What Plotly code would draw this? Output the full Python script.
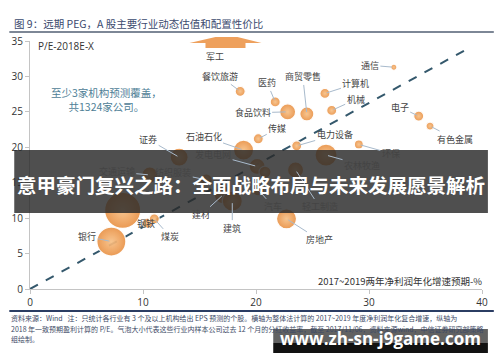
import plotly.graph_objects as go

# ---------------- data ----------------
sectors = ["餐饮旅游", "医药", "商贸零售", "食品饮料", "计算机", "机械", "通信", "电子",
           "有色金属", "传媒", "电力设备", "环保", "石油石化", "证券", "发电电网", "农林牧渔",
           "家电", "轻工制造", "汽车", "交通运输", "纺织服装", "建材", "建筑", "非银金融",
           "银行", "钢铁", "煤炭", "房地产"]
growth = [18.6, 21.7, 24.5, 22.8, 26.1, 26.7, 32.2, 34.4,
          35.4, 20.2, 23.6, 29.1, 18.9, 13.2, 20.1, 26.2,
          20.8, 23.5, 20.2, 10.6, 15.6, 17.1, 17.9, 8.2,
          7.2, 10.4, 11.0, 22.7]
pe = [27.9, 26.4, 24.7, 25.0, 27.6, 25.2, 31.3, 24.4,
      23.0, 21.2, 20.2, 20.4, 19.6, 18.6, 17.3, 18.9,
      16.5, 16.8, 14.0, 16.1, 15.4, 13.3, 12.4, 11.1,
      6.7, 9.3, 9.9, 9.9]
div_yield = [0.55, 0.55, 1.07, 1.40, 0.55, 0.55, 0.20, 0.55,
             0.35, 0.55, 0.55, 0.44, 2.19, 1.77, 1.40, 2.65,
             0.79, 1.40, 0.79, 1.40, 0.79, 1.77, 2.19, 7.10,
             4.60, 0.55, 0.55, 2.19]
show_label = [True] * len(sectors)
show_label[sectors.index("家电")] = False
show_label[sectors.index("非银金融")] = False

mil_name, mil_x, mil_y = "军工", 17.3, 34.0
peg_line_x = [0, 38.5]
peg_line_y = [0, 33.7]
x_ticks = [0, 10, 20, 30, 40]
y_ticks = [0, 5, 10, 15, 20, 25, 30, 35]
X_MAX, Y_MAX = 40, 35

# label offsets (pixels, label centre relative to bubble centre) - layout only
label_off = {
    "餐饮旅游": (-20, -15), "医药": (-8, -19), "商贸零售": (-4, -37), "食品饮料": (-35, 1),
    "计算机": (31, -10), "机械": (24, -11), "通信": (-24, -2), "电子": (-19, -9),
    "有色金属": (25, 13), "传媒": (19, -10), "电力设备": (38, -11), "环保": (32, 9),
    "石油石化": (-40, -14), "证券": (-31, -18), "发电电网": (-44, -12), "农林牧渔": (36, 10),
    "轻工制造": (24, 37), "汽车": (15, 17), "交通运输": (-33, -3), "纺织服装": (-33, -7),
    "建材": (-22, 20), "建筑": (0, 27), "银行": (-24, -5), "钢铁": (-2, 0),
    "煤炭": (16, 18), "房地产": (33, 21),
}

# ---------------- page geometry helpers ----------------
L, R, T, B = 26, 485, 41, 289
W, H = R - L, B - T


def pxx(x):
    return (x - L) / W


def pyy(y):
    return (B - y) / H


CJK = "Noto Sans CJK SC"
fig = go.Figure()

# diagonal reference line
fig.add_trace(go.Scatter(x=peg_line_x, y=peg_line_y, mode="lines",
                         line=dict(color="rgb(52,88,108)", width=2, dash="dash"),
                         hoverinfo="skip", showlegend=False))

# bubbles
fig.add_trace(go.Scatter(
    x=growth, y=pe, mode="markers", text=sectors,
    marker=dict(size=div_yield, sizemode="area", sizeref=0.01094,
                color="rgb(233,146,70)", opacity=0.92,
                gradient=dict(type="radial", color="rgb(247,192,134)"),
                line=dict(color="rgba(255,255,255,0.95)", width=1.2)),
    showlegend=False))

annotations = []
for name, gx, gy, show in zip(sectors, growth, pe, show_label):
    if not show:
        continue
    dx, dy = label_off[name]
    annotations.append(dict(x=gx, y=gy, xref="x", yref="y", text=name,
                            showarrow=True, arrowhead=0, arrowwidth=1,
                            arrowcolor="rgb(168,186,204)", ax=dx, ay=dy,
                            axref="pixel", ayref="pixel", standoff=2,
                            font=dict(family=CJK, size=9, color="#444")))

# military arrow (off-chart value)
arrow_path = "M -20 0 L -20 5 L -36 5 L -10 11 L 12 11 L 36 5 L 20 5 L 20 0 Z"
shapes = [dict(type="path", xref="paper", yref="paper",
               xsizemode="pixel", ysizemode="pixel",
               xanchor=mil_x / X_MAX, yanchor=mil_y / Y_MAX,
               path=arrow_path, fillcolor="rgb(238,160,92)", line=dict(width=0),
               layer="above")]
annotations.append(dict(x=mil_x, y=mil_y, xref="x", yref="y", text=mil_name,
                        showarrow=False, xshift=-10, yshift=-8,
                        font=dict(family=CJK, size=9, color="#444")))

# chart texts
annotations += [
    dict(x=pxx(8), y=pyy(24), xref="paper", yref="paper", xanchor="left",
         yanchor="middle", showarrow=False,
         text="图 9：远期 PEG，A 股主要行业动态估值和配置性价比",
         font=dict(family=CJK, size=10.5, color="#3b4a6e")),
    dict(x=pxx(32), y=pyy(46), xref="paper", yref="paper", xanchor="left",
         yanchor="middle", showarrow=False, text="P/E-2018E-X",
         font=dict(family="Open Sans", size=10, color="#333")),
    dict(x=pxx(487), y=pyy(281), xref="paper", yref="paper", xanchor="right",
         yanchor="middle", showarrow=False, text="2017~2019两年净利润年化增速预期-%",
         font=dict(family=CJK, size=9.5, color="#333")),
    dict(x=pxx(104), y=pyy(99.5), xref="paper", yref="paper", xanchor="center",
         yanchor="middle", showarrow=False, align="center",
         text="至少3家机构预测覆盖，<br>共1324家公司。",
         font=dict(family=CJK, size=10.5, color="rgb(78,128,150)")),
]

foot = [
    "资料来源：Wind\u00a0\u00a0\u00a0注：只统计各行业有 3 个及以上机构给出 EPS 预测的个股。横轴为整体法计算的 2017~2019 年度净利润年化复合增速，纵轴为",
    "2018 年一致预期盈利计算的 P/E。气泡大小代表这些行业内样本公司过去 12 个月的分红收益率，截至 2017/11/06，资料来源wind，中信证券研究部策略",
    "组绘制。",
]
for line, yy in zip(foot, [318, 328.5, 338.5]):
    annotations.append(dict(x=pxx(5), y=pyy(yy), xref="paper", yref="paper",
                            xanchor="left", yanchor="middle", showarrow=False,
                            text=line, font=dict(family=CJK, size=7.0, color="#3d4a66")))

# rules
shapes += [
    dict(type="line", xref="paper", yref="paper", x0=pxx(5), x1=pxx(497),
         y0=pyy(32), y1=pyy(32), line=dict(color="#7d8796", width=2)),
    dict(type="line", xref="paper", yref="paper", x0=pxx(5), x1=pxx(497),
         y0=pyy(311), y1=pyy(311), line=dict(color="#2b3d63", width=2)),
]

# overlay banners (watermarks)
shapes += [
    dict(type="rect", xref="paper", yref="paper", x0=pxx(10), x1=pxx(491),
         y0=pyy(213), y1=pyy(150), fillcolor="rgba(40,40,40,0.82)",
         line=dict(width=0), layer="above"),
    dict(type="rect", xref="paper", yref="paper", x0=pxx(273), x1=pxx(491),
         y0=pyy(343), y1=pyy(329), fillcolor="rgba(70,70,70,0.85)",
         line=dict(width=0), layer="above"),
    dict(type="rect", xref="paper", yref="paper", x0=pxx(273), x1=pxx(491),
         y0=pyy(353), y1=pyy(343), fillcolor="rgba(8,8,8,0.96)",
         line=dict(width=0), layer="above"),
]
annotations += [
    dict(x=pxx(250), y=pyy(184), xref="paper", yref="paper", xanchor="center",
         yanchor="middle", showarrow=False,
         text="<b>意甲豪门复兴之路：全面战略布局与未来发展愿景解析</b>",
         font=dict(family=CJK, size=19.5, color="white")),
    dict(x=pxx(382), y=pyy(338), xref="paper", yref="paper", xanchor="center",
         yanchor="middle", showarrow=False, text="<b>www.zh-sn-j9game.com</b>",
         font=dict(family="Open Sans", size=17, color="white")),
]

fig.update_layout(
    width=500, height=362, autosize=False,
    margin=dict(l=L, r=500 - R, t=T, b=362 - B),
    paper_bgcolor="white", plot_bgcolor="white",
    shapes=shapes, annotations=annotations,
    xaxis=dict(range=[0, X_MAX], tickvals=x_ticks, showgrid=False, zeroline=False,
               showline=True, linecolor="#c4c4c4", linewidth=1,
               ticks="outside", ticklen=4, tickcolor="#c4c4c4",
               tickfont=dict(family="Open Sans", size=10, color="#333")),
    yaxis=dict(range=[0, Y_MAX], tickvals=y_ticks, showgrid=False, zeroline=False,
               showline=True, linecolor="#c4c4c4", linewidth=1,
               ticks="outside", ticklen=4, tickcolor="#c4c4c4",
               tickfont=dict(family="Open Sans", size=10, color="#333")),
)

fig.write_html("out.html", config={"displayModeBar": False},
               post_script="document.body.style.margin='0';document.body.style.overflow='hidden';")
